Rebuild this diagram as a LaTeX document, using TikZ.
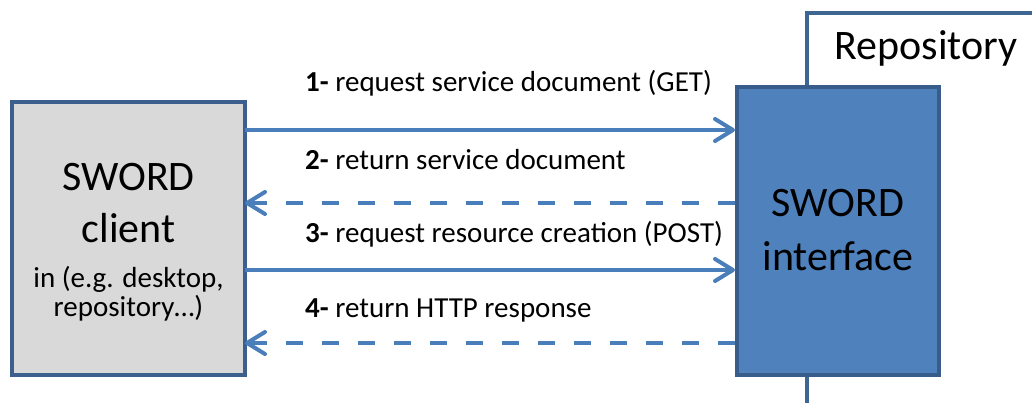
\documentclass[tikz,border=0pt]{standalone}
\usepackage{fontspec}
\setmainfont{Carlito}
\usetikzlibrary{arrows.meta}
\definecolor{clientfill}{HTML}{D9D9D9}
\definecolor{clientline}{HTML}{3D5F8E}
\definecolor{ifacefill}{HTML}{4F81BD}
\definecolor{ifaceline}{HTML}{385D8A}
\definecolor{arrowcol}{HTML}{4A7EBB}
\definecolor{repoline}{HTML}{3F6593}
\tikzset{
  clientbox/.style={draw=clientline, fill=clientfill, line width=4pt, minimum width=233pt, minimum height=273pt, inner sep=0pt, outer sep=0pt},
  ifacebox/.style={draw=ifaceline, fill=ifacefill, line width=4pt, minimum width=202pt, minimum height=288pt, inner sep=0pt},
  big/.style={font=\fontsize{42}{50}\selectfont, inner sep=0pt, anchor=base},
  small/.style={font=\fontsize{29}{34}\selectfont, inner sep=0pt, anchor=base},
  msg/.style={font=\fontsize{29}{34}\selectfont, inner sep=0pt, anchor=base west},
  req/.style={draw=arrowcol, line width=4pt, -{Straight Barb[length=18pt, width=22pt, line cap=round, line join=round]}},
  resp/.style={req, dash pattern=on 17pt off 19pt},
}
\begin{document}
\begin{tikzpicture}[x=1pt, y=-1pt]
\useasboundingbox (0,0) rectangle (1032,403);
% repository frame
\draw[repoline, line width=3.5pt] (807,403) -- (807,13) -- (1032,13);
\node[big] (repo) at (926,60) {Repository};
% boxes
\node[clientbox] (client) at (128.5,238.5) {};
\node[ifacebox] (iface) at (838,231) {};
% box texts
\node[big] (c1) at (128.5,191) {SWORD};
\node[big] (c2) at (128.5,243) {client};
\node[small] (c3) at (128.5,287) {in (e.g. desktop,};
\node[small] (c4) at (128.5,316) {repository…)};
\node[big] (i1) at (838,217) {SWORD};
\node[big] (i2) at (838,270) {interface};
% messages
\node[msg] (m1) at (305,92) {\textbf{1-} request service document (GET)};
\node[msg] (m2) at (305,170) {\textbf{2-} return service document};
\node[msg] (m3) at (305,243) {\textbf{3-} request resource creation (POST)};
\node[msg] (m4) at (305,317) {\textbf{4-} return HTTP response};
% connectors
\draw[req] ([yshift=108.5pt]client.east) -- ([yshift=108.5pt]client.east -| iface.west);
\draw[resp] ([yshift=35.5pt]client.east -| iface.west) -- ([yshift=35.5pt]client.east);
\draw[req] ([yshift=-31.5pt]client.east) -- ([yshift=-31.5pt]client.east -| iface.west);
\draw[resp] ([yshift=-104.5pt]client.east -| iface.west) -- ([yshift=-104.5pt]client.east);
\end{tikzpicture}
\end{document}
